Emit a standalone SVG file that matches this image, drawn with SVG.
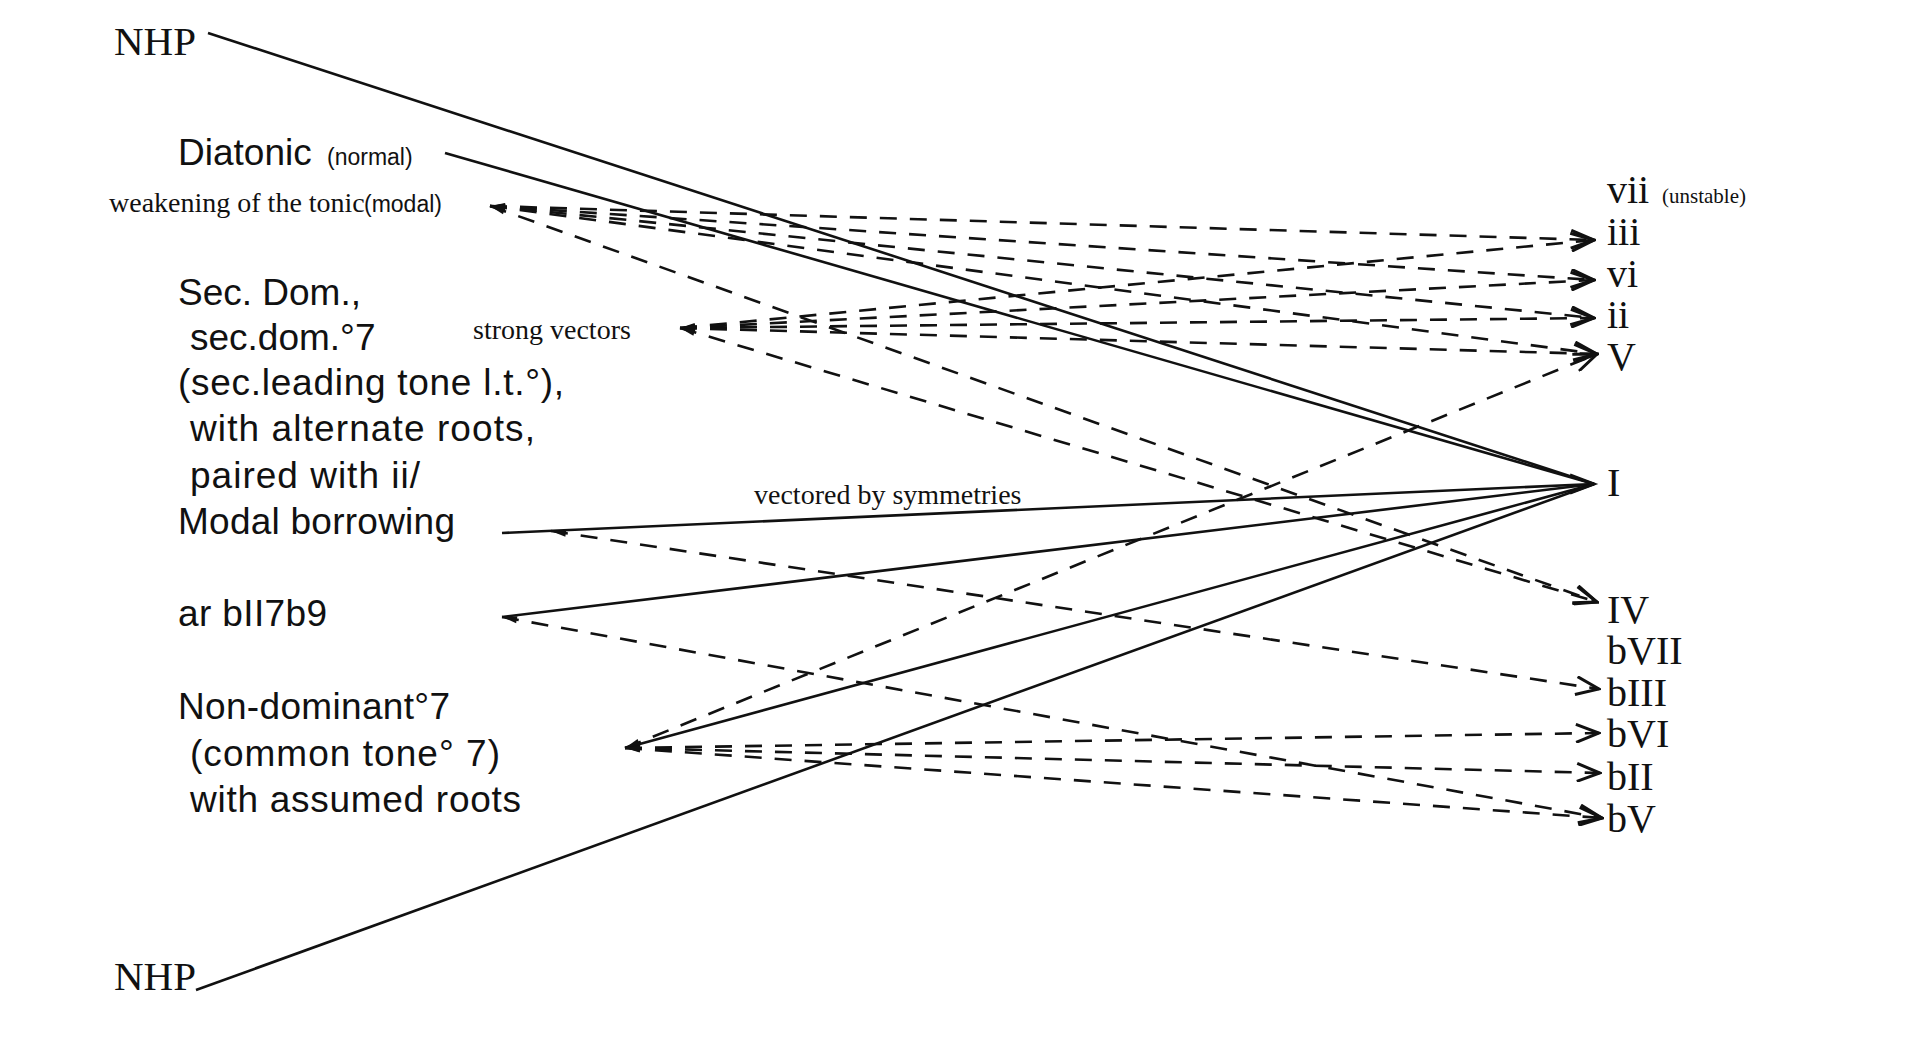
<svg xmlns="http://www.w3.org/2000/svg" width="1920" height="1048" viewBox="0 0 1920 1048">
<defs>
<style>
.sans{font-family:"Liberation Sans",Arial,sans-serif;fill:#111}
.serif{font-family:"Liberation Serif","Times New Roman",serif;fill:#111}
.solid{stroke:#111;stroke-width:2.6;fill:none}
.dash{stroke:#111;stroke-width:2.6;fill:none;stroke-dasharray:17 13;marker-end:url(#end)}
.ds{marker-start:url(#start)}
.head{stroke:#111;stroke-width:3;fill:none}
.lg{font-size:37px}
.sm{font-size:23px}
.rn{font-size:40px}
.lb{font-size:28px}
</style>
<marker id="end" markerUnits="userSpaceOnUse" viewBox="0 0 26 20" refX="24" refY="10" markerWidth="26" markerHeight="20" orient="auto"><path d="M1,1 L24,10 L1,19" fill="none" stroke="#111" stroke-width="3" stroke-dasharray="none"/></marker>
<marker id="start" markerUnits="userSpaceOnUse" viewBox="0 0 16 10" refX="0" refY="5" markerWidth="16" markerHeight="10" orient="auto"><path d="M0,5 L15,1.5 L15,8.5 Z" fill="#111"/></marker>
</defs>
<rect width="1920" height="1048" fill="#fff"/>

<g id="connectors">
<line class="solid" x1="208" y1="33" x2="1594" y2="484"/>
<line class="solid" x1="445" y1="153" x2="1594" y2="484" stroke-width="3"/>
<line class="solid" x1="502" y1="533" x2="1594" y2="484"/>
<line class="solid" x1="502" y1="617" x2="1594" y2="484"/>
<line class="solid" x1="625" y1="748" x2="1594" y2="484"/>
<line class="solid" x1="196" y1="990" x2="1594" y2="484"/>
<path class="head" d="M1570,475 L1594,484 L1570,493"/>

<line class="dash ds" x1="490" y1="206" x2="1594" y2="240"/>
<line class="dash ds" x1="490" y1="206" x2="1594" y2="280"/>
<line class="dash ds" x1="490" y1="206" x2="1594" y2="318"/>
<line class="dash ds" x1="490" y1="206" x2="1597" y2="354"/>
<line class="dash ds" x1="490" y1="206" x2="1597" y2="602"/>

<line class="dash ds" x1="680" y1="328" x2="1594" y2="240"/>
<line class="dash ds" x1="680" y1="328" x2="1594" y2="280"/>
<line class="dash ds" x1="680" y1="328" x2="1594" y2="318"/>
<line class="dash ds" x1="680" y1="328" x2="1597" y2="354"/>
<line class="dash ds" x1="680" y1="328" x2="1597" y2="602"/>

<line class="dash ds" x1="551" y1="531" x2="1599" y2="689"/>
<line class="dash ds" x1="502" y1="617" x2="1602" y2="818"/>

<line class="dash ds" x1="625" y1="748" x2="1597" y2="354"/>
<line class="dash ds" x1="625" y1="748" x2="1599" y2="733"/>
<line class="dash ds" x1="625" y1="748" x2="1600" y2="773"/>
<line class="dash ds" x1="625" y1="748" x2="1602" y2="818"/>
</g>

<g id="nhp-top"><text class="serif" x="114" y="55" font-size="41">NHP</text></g>
<g id="diatonic"><text class="sans lg" x="178" y="165">Diatonic</text><text class="sans sm" x="327" y="165">(normal)</text></g>
<g id="weakening"><text class="serif lb" x="109" y="212">weakening of the tonic</text><text class="sans sm" x="364" y="212">(modal)</text></g>
<g id="secdom">
<text class="sans lg" x="178" y="305">Sec. Dom.,</text>
<text class="sans lg" x="190" y="350">sec.dom.°7</text>
<text class="sans lg" x="178" y="395" textLength="386" lengthAdjust="spacing">(sec.leading tone l.t.°),</text>
<text class="sans lg" x="190" y="441" textLength="345" lengthAdjust="spacing">with alternate roots,</text>
<text class="sans lg" x="190" y="488" textLength="230" lengthAdjust="spacing">paired with ii/</text>
</g>
<g id="modal-borrowing"><text class="sans lg" x="178" y="534" textLength="277" lengthAdjust="spacing">Modal borrowing</text></g>
<g id="ar-bII7b9"><text class="sans lg" x="178" y="626" textLength="149" lengthAdjust="spacing">ar bII7b9</text></g>
<g id="non-dominant">
<text class="sans lg" x="178" y="719" textLength="272" lengthAdjust="spacing">Non-dominant°7</text>
<text class="sans lg" x="190" y="766" textLength="310" lengthAdjust="spacing">(common tone° 7)</text>
<text class="sans lg" x="190" y="812" textLength="331" lengthAdjust="spacing">with assumed roots</text>
</g>
<g id="nhp-bottom"><text class="serif" x="114" y="990" font-size="41">NHP</text></g>
<g id="strong-vectors"><text class="serif lb" x="473" y="339">strong vectors</text></g>
<g id="vectored"><text class="serif lb" x="754" y="504">vectored by symmetries</text></g>

<g id="vii"><text class="serif rn" x="1607" y="203">vii</text><text class="serif" x="1662" y="203" font-size="21">(unstable)</text></g>
<g id="iii"><text class="serif rn" x="1607" y="245">iii</text></g>
<g id="vi"><text class="serif rn" x="1607" y="287">vi</text></g>
<g id="ii"><text class="serif rn" x="1607" y="328">ii</text></g>
<g id="V"><text class="serif rn" x="1607" y="370">V</text></g>
<g id="I"><text class="serif rn" x="1607" y="496">I</text></g>
<g id="IV"><text class="serif rn" x="1607" y="623">IV</text></g>
<g id="bVII"><text class="serif rn" x="1607" y="664">bVII</text></g>
<g id="bIII"><text class="serif rn" x="1607" y="706">bIII</text></g>
<g id="bVI"><text class="serif rn" x="1607" y="747">bVI</text></g>
<g id="bII"><text class="serif rn" x="1607" y="790">bII</text></g>
<g id="bV"><text class="serif rn" x="1607" y="832">bV</text></g>
</svg>
